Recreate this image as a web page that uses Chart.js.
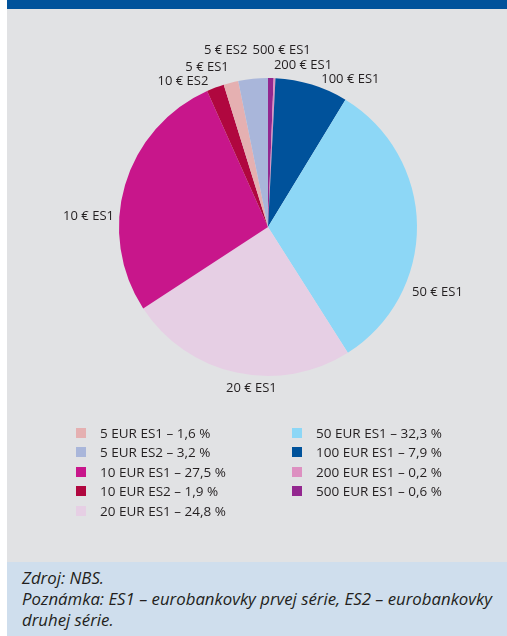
<!DOCTYPE html>
<html>
<head>
<meta charset="utf-8">
<script src="https://cdn.jsdelivr.net/npm/chart.js@4/dist/chart.umd.min.js"></script>
<style>
  html, body { margin: 0; padding: 0; background: #fff; }
  body { width: 507px; height: 636px; position: relative; overflow: hidden; font-family: "Open Sans", sans-serif; color: #231f20; }
  .topband { position: absolute; left: 7px; top: 0; width: 500px; height: 9px; background: #00529b; }
  .panel { position: absolute; left: 7px; top: 9px; width: 500px; height: 553px; background: #e1e2e4; }
  .chartbox { position: absolute; left: 0; top: 0; width: 500px; height: 420px; }
  .legend { position: absolute; left: 0; top: 0; }
  .leg-item { position: absolute; display: flex; align-items: center; font-size: 13.5px; white-space: nowrap; }
  .leg-item span.sw { width: 10px; height: 10px; display: inline-block; margin-right: 14px; }
  .footer { position: absolute; left: 7px; top: 562px; width: 500px; height: 74px; background: #cfdeed; }
  .footer p { margin: 0; position: absolute; left: 15px; top: 5px; font-style: italic; font-size: 16.8px; line-height: 21px; white-space: nowrap; }
</style>
</head>
<body>
<div class="topband"></div>
<div class="panel">
  <div class="chartbox"><canvas id="pie"></canvas></div>
  <div class="legend" id="legend"></div>
</div>
<div class="footer">
  <p>Zdroj: NBS.<br>Poznámka: ES1 – eurobankovky prvej série, ES2 – eurobankovky<br>druhej série.</p>
</div>
<script>
// banknote series, legend order
const categories = ["5 EUR ES1", "5 EUR ES2", "10 EUR ES1", "10 EUR ES2", "20 EUR ES1",
                    "50 EUR ES1", "100 EUR ES1", "200 EUR ES1", "500 EUR ES1"];
const shares = [1.6, 3.2, 27.5, 1.9, 24.8, 32.3, 7.9, 0.2, 0.6];
const colors = ["#e5b0b1", "#a9b6da", "#c8168b", "#b0073f", "#e6cfe4",
                "#8dd7f6", "#00529b", "#dd90c1", "#93278f"];
// clockwise order of slices from the top
const pieOrder = [8, 7, 6, 5, 4, 2, 3, 0, 1];

// label placement around the pie (deg from top, px beyond the rim), pie order
const labelAngle = [4.4, 12.2, 29.1, 111, 185.9, 273.5, 329.8, 339.1, 346.5];
const labelGap = [28.5, 16.7, 20.4, 32.5, 12.8, 30.8, 20, 21.8, 32.5];

const pieLabel = name => name.replace("EUR", "€");
const fmt = v => v.toFixed(1).replace(".", ",") + " %";

const outsideLabels = {
  id: "outsideLabels",
  afterDatasetsDraw(chart) {
    const ctx = chart.ctx;
    const arcs = chart.getDatasetMeta(0).data;
    ctx.save();
    ctx.font = "13px 'Open Sans'";
    ctx.fillStyle = "#231f20";
    ctx.textAlign = "center";
    ctx.textBaseline = "middle";
    arcs.forEach((arc, i) => {
      const a = labelAngle[i] * Math.PI / 180;
      const r = arc.outerRadius + labelGap[i];
      ctx.fillText(chart.data.labels[i], arc.x + r * Math.sin(a), arc.y - r * Math.cos(a));
    });
    ctx.restore();
  }
};

new Chart(document.getElementById("pie"), {
  type: "pie",
  data: {
    labels: pieOrder.map(i => pieLabel(categories[i])),
    datasets: [{
      data: pieOrder.map(i => shares[i]),
      backgroundColor: pieOrder.map(i => colors[i]),
      borderWidth: 0
    }]
  },
  options: {
    responsive: true,
    maintainAspectRatio: false,
    animation: false,
    layout: { padding: { left: 112, right: 90, top: 69, bottom: 53 } },
    plugins: { legend: { display: false }, tooltip: { enabled: false } }
  },
  plugins: [outsideLabels]
});

// two-column legend
const legend = document.getElementById("legend");
categories.forEach((name, i) => {
  const col = i < 5 ? 0 : 1;
  const row = i < 5 ? i : i - 5;
  const item = document.createElement("div");
  item.className = "leg-item";
  item.style.left = (col ? 285 : 69) + "px";
  item.style.top = (415 + row * 19.4) + "px";
  item.innerHTML = `<span class="sw" style="background:${colors[i]}"></span>${name} – ${fmt(shares[i])}`;
  legend.appendChild(item);
});
</script>
</body>
</html>
